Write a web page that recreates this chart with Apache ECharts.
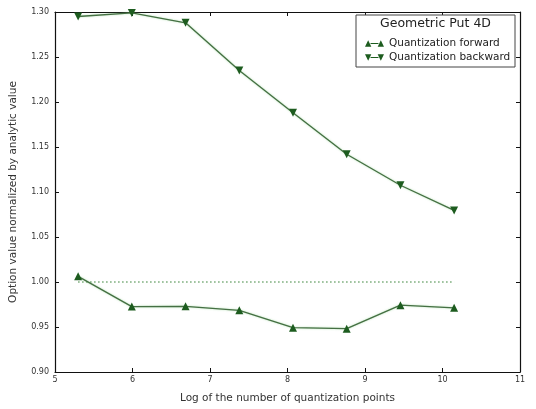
<!DOCTYPE html>
<html>
<head>
<meta charset="utf-8">
<script src="https://cdn.jsdelivr.net/npm/echarts@6/dist/echarts.min.js"></script>
<style>
  html, body { margin: 0; padding: 0; background: #fff; }
  #chart { width: 536px; height: 409px; }
</style>
</head>
<body>
<div id="chart"></div>
<script>
// Log of the number of quantization points (ln N, N = 200 ... 25600)
const logPoints = [5.298, 5.991, 6.685, 7.378, 8.071, 8.764, 9.457, 10.150];
// Option value divided by the analytic value
const forwardValues = [1.0063, 0.9727, 0.9730, 0.9685, 0.9492, 0.9481, 0.9743, 0.9713];
const backwardValues = [1.2950, 1.2990, 1.2880, 1.2350, 1.1880, 1.1420, 1.1075, 1.0795];
const referenceLevel = 1.0;
const xTicks = [5, 6, 7, 8, 9, 10, 11];
const yTicks = [0.90, 0.95, 1.00, 1.05, 1.10, 1.15, 1.20, 1.25, 1.30];

const pair = (xs, ys) => xs.map((x, i) => [x, ys[i]]);
const refLine = [[logPoints[0], referenceLevel], [logPoints[logPoints.length - 1], referenceLevel]];

const FONT = 'DejaVu Sans';
const lineColor = '#456f43';
const markerColor = '#1d5c1f';

// legend keys: marker - line - marker
const iconUp = 'path://M0,10 L4,2 L8,10 Z M7,5.5 L17,5.5 L17,6.7 L7,6.7 Z M16,10 L20,2 L24,10 Z';
const iconDown = 'path://M0,2 L4,10 L8,2 Z M7,5.5 L17,5.5 L17,6.7 L7,6.7 Z M16,2 L20,10 L24,2 Z';

const chart = echarts.init(document.getElementById('chart'), null, { renderer: 'canvas' });

const axisCommon = {
  axisLine: { show: true, lineStyle: { color: '#111', width: 1.2 } },
  axisTick: { show: true, inside: true, length: 4, lineStyle: { color: '#111' } },
  splitLine: { show: false }
};

chart.setOption({
  animation: false,
  textStyle: { fontFamily: FONT },
  grid: { left: 50, right: 16, top: 12, bottom: 34 },
  xAxis: [
    Object.assign({
      type: 'value', min: xTicks[0], max: xTicks[xTicks.length - 1], interval: 1,
      position: 'bottom',
      name: 'Log of the number of quantization points',
      nameLocation: 'middle', nameGap: 21,
      nameTextStyle: { fontSize: 10.5, color: '#333', fontFamily: FONT },
      axisLabel: { fontSize: 8, color: '#333', margin: 4, fontFamily: FONT }
    }, axisCommon),
    Object.assign({
      type: 'value', min: xTicks[0], max: xTicks[xTicks.length - 1], interval: 1,
      position: 'top', axisLabel: { show: false }
    }, axisCommon)
  ],
  yAxis: [
    Object.assign({
      type: 'value', min: yTicks[0], max: yTicks[yTicks.length - 1], interval: 0.05,
      position: 'left',
      name: 'Option value normalized by analytic value',
      nameLocation: 'middle', nameGap: 36, nameRotate: 90,
      nameTextStyle: { fontSize: 10.5, color: '#333', fontFamily: FONT },
      axisLabel: { fontSize: 8, color: '#333', margin: 6, fontFamily: FONT,
                   formatter: v => v.toFixed(2) }
    }, axisCommon),
    Object.assign({
      type: 'value', min: yTicks[0], max: yTicks[yTicks.length - 1], interval: 0.05,
      position: 'right', axisLabel: { show: false }
    }, axisCommon)
  ],
  legend: {
    show: true,
    left: 360, top: 33,
    orient: 'vertical',
    z: 20,
    itemGap: 3,
    itemWidth: 19, itemHeight: 8,
    textStyle: { fontSize: 10.5, color: '#222', fontFamily: FONT },
    data: [
      { name: 'Quantization forward', icon: iconUp },
      { name: 'Quantization backward', icon: iconDown }
    ]
  },
  graphic: [
    {
      type: 'rect', z: 1,
      shape: { x: 356, y: 15, width: 159, height: 52 },
      style: { fill: '#fff', stroke: '#444', lineWidth: 1 }
    },
    {
      type: 'text', z: 21,
      style: { x: 435.5, y: 17, text: 'Geometric Put 4D', align: 'center',
               fontSize: 12.5, fill: '#222', fontFamily: FONT }
    }
  ],
  series: [
    {
      name: 'reference', type: 'line', data: refLine,
      symbol: 'none', silent: true,
      lineStyle: { color: '#2f7d2f', width: 1, type: [1.5, 2.5] },
      z: 1
    },
    {
      name: 'Quantization forward', type: 'line', data: pair(logPoints, forwardValues),
      symbol: 'triangle', symbolSize: 8,
      lineStyle: { color: lineColor, width: 1.3, shadowColor: 'rgba(120,200,120,0.6)', shadowBlur: 2 },
      itemStyle: { color: markerColor },
      z: 3
    },
    {
      name: 'Quantization backward', type: 'line', data: pair(logPoints, backwardValues),
      symbol: 'triangle', symbolRotate: 180, symbolSize: 8,
      lineStyle: { color: lineColor, width: 1.3, shadowColor: 'rgba(120,200,120,0.6)', shadowBlur: 2 },
      itemStyle: { color: markerColor },
      z: 3
    }
  ]
});
</script>
</body>
</html>
